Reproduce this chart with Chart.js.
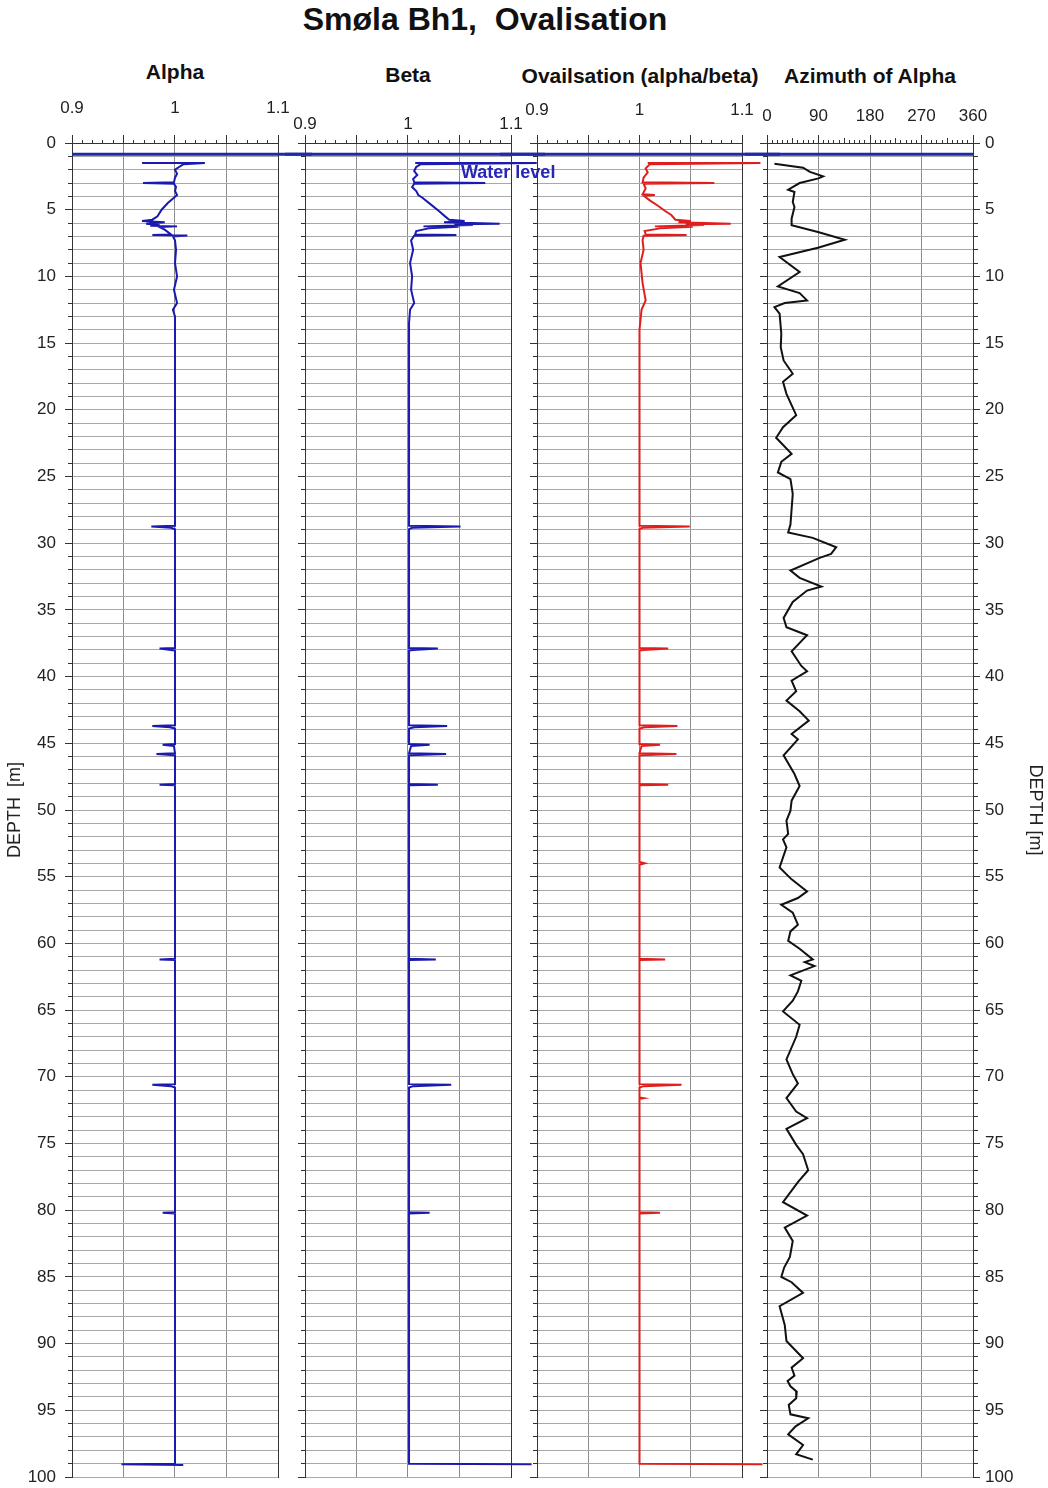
<!DOCTYPE html>
<html>
<head>
<meta charset="utf-8">
<script src="https://cdn.jsdelivr.net/npm/chart.js@4.4.1/dist/chart.umd.min.js"></script>
<style>
  body { margin: 0; background: #fff; width: 1048px; height: 1488px; position: relative; overflow: hidden;
         font-family: "Liberation Sans", Arial, sans-serif; }
  canvas { position: absolute; top: 0; }
  .t { position: absolute; font-weight: bold; white-space: pre; transform: translate(-50%, -50%); color: #111; }
  .wl { position: absolute; font-weight: bold; color: #2626b8; font-size: 18px; transform: translateY(-50%); }
</style>
</head>
<body>
<div class="t" style="left:485px;top:19px;font-size:32px">Smøla Bh1,  Ovalisation</div>
<div class="t" style="left:175px;top:72px;font-size:21px">Alpha</div>
<div class="t" style="left:408px;top:75px;font-size:21px">Beta</div>
<div class="t" style="left:640px;top:76px;font-size:21px">Ovailsation (alpha/beta)</div>
<div class="t" style="left:870px;top:76px;font-size:21px">Azimuth of Alpha</div>

<canvas id="alpha" width="312" height="1500" style="left:0px"></canvas>
<canvas id="beta" width="260" height="1500" style="left:285px"></canvas>
<canvas id="oval" width="280" height="1500" style="left:500px"></canvas>
<canvas id="azimuth" width="303" height="1500" style="left:745px"></canvas>
<div class="wl" style="left:461px;top:172px">Water level</div>

<script>
const FONT = '"Liberation Sans", Arial, sans-serif';

// tick labels
const depthLabels = [0, 5, 10, 15, 20, 25, 30, 35, 40, 45, 50, 55, 60, 65, 70, 75, 80, 85, 90, 95, 100];
const ratioLabels = [0.9, 1, 1.1];
const azimuthLabels = [0, 90, 180, 270, 360];
const waterDepth = 0.85;

// Alpha
const alphaDepth = [1.5, 1.5, 1.6, 1.8, 2.0, 2.3, 2.6, 2.95, 3.0, 3.05,
  3.3, 3.6, 3.9, 4.1, 4.5, 5.0, 5.5, 5.75, 5.85, 5.95,
  6.05, 6.15, 6.2, 6.25, 6.3, 6.5, 6.85, 6.9, 6.93, 7.0,
  7.3, 8.0, 9.0, 10.0, 11.0, 12.0, 12.5, 13.0, 16.0, 20.0,
  25.0, 28.7, 28.75, 28.85, 28.95, 37.85, 37.9, 38.0, 38.05, 43.65,
  43.7, 43.8, 43.9, 45.05, 45.1, 45.2, 45.75, 45.8, 45.9, 48.05,
  48.1, 48.15, 53.5, 61.15, 61.2, 61.25, 70.55, 70.6, 70.7, 70.8,
  80.15, 80.2, 80.25, 99.0, 99.05, 99.1];
const alphaValue = [0.968, 1.029, 1.008, 1.004, 1.0, 1.002, 1.0, 0.999, 0.969, 0.999,
  1.001, 1.0, 1.002, 0.999, 0.993, 0.987, 0.983, 0.978, 0.968, 0.99,
  0.972, 0.985, 0.976, 1.002, 0.985, 0.99, 0.996, 0.978, 1.012, 0.998,
  1.0, 1.001, 1.0, 1.002, 0.999, 1.002, 0.998, 1.0, 1.0, 1.0,
  1.0, 1.0, 0.977, 0.996, 1.0, 1.0, 0.985, 0.996, 1.0, 1.0,
  0.978, 0.995, 1.0, 1.0, 0.988, 0.999, 1.0, 0.982, 1.0, 1.0,
  0.985, 1.0, 1.0, 1.0, 0.985, 1.0, 1.0, 0.978, 0.996, 1.0,
  1.0, 0.988, 1.0, 1.0, 0.948, 1.008];

// Beta
const betaDepth = [1.5, 1.5, 1.6, 1.8, 2.1, 2.4, 2.7, 2.95, 3.0, 3.05,
  3.3, 3.6, 3.9, 4.1, 4.6, 5.1, 5.5, 5.75, 5.85, 5.95,
  6.05, 6.1, 6.15, 6.25, 6.27, 6.4, 6.6, 6.85, 6.9, 6.95,
  7.3, 8.0, 9.0, 10.0, 11.0, 12.0, 12.5, 13.5, 20.0, 28.7,
  28.75, 28.85, 28.95, 37.85, 37.9, 38.0, 38.05, 43.65, 43.7, 43.8,
  43.9, 45.05, 45.1, 45.2, 45.75, 45.8, 45.9, 48.05, 48.1, 48.15,
  61.15, 61.2, 61.25, 70.55, 70.6, 70.7, 70.8, 80.15, 80.2, 80.25,
  99.0, 99.05];
const betaValue = [1.007, 1.125, 1.012, 1.008, 1.006, 1.009, 1.005, 1.006, 1.075, 1.006,
  1.004, 1.008, 1.01, 1.014, 1.022, 1.03, 1.036, 1.04, 1.055, 1.035,
  1.089, 1.045, 1.063, 1.015, 1.049, 1.02, 1.008, 1.007, 1.047, 1.006,
  1.003, 1.005, 1.002, 1.004, 1.003, 1.006, 1.002, 1.001, 1.001, 1.001,
  1.051, 1.004, 1.001, 1.001, 1.029, 1.005, 1.001, 1.001, 1.038, 1.006,
  1.001, 1.001, 1.021, 1.003, 1.001, 1.037, 1.001, 1.001, 1.029, 1.001,
  1.001, 1.027, 1.001, 1.001, 1.042, 1.005, 1.001, 1.001, 1.021, 1.001,
  1.001, 1.12];

// Ovalisation (alpha/beta)
const ovalDepth = [1.5, 1.5, 1.6, 1.9, 2.2, 2.6, 2.95, 3.0, 3.05, 3.4,
  3.85, 3.9, 3.95, 4.3, 4.7, 5.1, 5.4, 5.75, 5.85, 5.95,
  6.05, 6.1, 6.15, 6.25, 6.27, 6.4, 6.6, 6.85, 6.9, 6.95,
  7.3, 8.0, 9.0, 10.5, 11.8, 12.5, 14.0, 20.0, 28.7, 28.75,
  28.85, 28.95, 37.85, 37.9, 38.0, 38.05, 43.65, 43.7, 43.8, 43.9,
  45.05, 45.1, 45.2, 45.75, 45.8, 45.9, 48.05, 48.1, 48.15, 53.9,
  54.0, 54.1, 61.15, 61.2, 61.25, 70.55, 70.6, 70.7, 70.8, 71.55,
  71.6, 71.65, 80.15, 80.2, 80.25, 99.0, 99.05];
const ovalValue = [1.008, 1.118, 1.01, 1.006, 1.008, 1.004, 1.003, 1.073, 1.004, 1.006,
  1.003, 1.015, 1.004, 1.01, 1.018, 1.025, 1.031, 1.035, 1.05, 1.038,
  1.089, 1.045, 1.063, 1.015, 1.052, 1.02, 1.005, 1.006, 1.046, 1.004,
  1.003, 1.004, 1.001, 1.003, 1.006, 1.002, 1.0, 1.0, 1.0, 1.049,
  1.003, 1.0, 1.0, 1.028, 1.004, 1.0, 1.0, 1.037, 1.005, 1.0,
  1.0, 1.02, 1.002, 1.0, 1.036, 1.0, 1.0, 1.028, 1.0, 1.0,
  1.005, 1.0, 1.0, 1.025, 1.0, 1.0, 1.041, 1.004, 1.0, 1.0,
  1.004, 1.0, 1.0, 1.02, 1.0, 1.0, 1.12];

// Azimuth of alpha (degrees)
const azDepth = [1.55, 1.85, 2.17, 2.5, 2.65, 3.0, 3.5, 3.67, 4.42, 4.8,
  5.67, 6.17, 6.67, 7.25, 7.85, 8.55, 9.67, 10.75, 11.25, 11.8,
  12.0, 12.3, 12.8, 14.3, 15.3, 16.3, 17.3, 17.9, 18.8, 20.4,
  21.3, 22.1, 23.3, 23.9, 24.7, 25.2, 26.3, 28.6, 29.2, 29.6,
  30.3, 30.8, 31.1, 32.05, 32.6, 33.25, 33.55, 34.4, 35.6, 36.3,
  36.9, 38.1, 39.2, 39.6, 40.3, 41.1, 41.8, 42.6, 43.3, 44.3,
  44.7, 45.9, 47.3, 48.2, 49.3, 50.05, 50.8, 51.8, 52.2, 52.8,
  54.3, 55.2, 56.1, 56.6, 57.1, 57.7, 58.6, 59.1, 59.8, 60.4,
  61.2, 61.4, 61.7, 62.4, 62.8, 63.6, 64.3, 65.1, 66.1, 67.0,
  68.7, 69.8, 70.5, 71.6, 72.6, 73.1, 73.9, 75.1, 75.8, 77.0,
  77.9, 79.4, 80.4, 81.3, 82.3, 83.5, 84.3, 85.0, 85.4, 86.2,
  87.2, 88.6, 89.8, 91.1, 91.8, 92.4, 92.8, 93.2, 93.6, 94.1,
  94.6, 95.3, 95.6, 96.2, 96.8, 97.6, 98.3, 98.7];
const azValue = [13, 63, 75, 98, 90, 57, 37, 48, 45, 48,
  43, 43, 89, 136, 89, 22, 57, 19, 57, 70,
  31, 13, 22, 25, 24, 29, 45, 28, 34, 51,
  28, 16, 43, 25, 19, 41, 45, 41, 37, 80,
  121, 112, 92, 41, 57, 95, 70, 45, 29, 34,
  70, 43, 60, 70, 43, 51, 34, 57, 73, 43,
  54, 29, 48, 57, 43, 41, 34, 37, 28, 34,
  22, 43, 70, 54, 25, 45, 54, 41, 37, 57,
  80, 66, 83, 41, 60, 54, 45, 28, 57, 51,
  34, 45, 54, 34, 51, 70, 34, 51, 63, 72,
  54, 28, 70, 31, 45, 40, 30, 25, 43, 63,
  22, 31, 34, 63, 43, 48, 36, 41, 52, 51,
  38, 41, 72, 50, 37, 63, 51, 80];

const pts = (d, v) => d.map((y, i) => ({ x: v[i], y: y }));
const isMult = (v, m) => Math.abs(v / m - Math.round(v / m)) < 1e-6;
const hasLabel = (list, v) => list.some(l => Math.abs(l - v) < 1e-6);

// draws the water level across each track (and the gaps between them)
const waterLine = {
  id: 'waterLine',
  afterDatasetsDraw(chart, args, opts) {
    const { ctx, chartArea, width } = chart;
    const y = chart.scales.y.getPixelForValue(waterDepth);
    const x0 = opts.fromArea ? chartArea.left : 0;
    const x1 = opts.toArea ? chartArea.right : width;
    ctx.save();
    ctx.strokeStyle = '#1f2aa8';
    ctx.lineWidth = 3;
    ctx.beginPath();
    ctx.moveTo(x0, y);
    ctx.lineTo(x1, y);
    ctx.stroke();
    ctx.restore();
  }
};

function makeTrack(id, cfg) {
  const depthScale = (pos, show, width, title) => ({
    type: 'linear', position: pos, min: 0, max: 100, reverse: true,
    afterFit: s => { s.width = width; },
    border: { display: true, color: '#333', width: 1 },
    grid: {
      drawOnChartArea: pos === 'left',
      color: '#a9a9a9', lineWidth: 1,
      drawTicks: pos === 'left' || show,
      tickLength: 7, tickColor: '#333',
      tickBorderDash: c => (c.tick && isMult(c.tick.value, 5)) ? [] : (pos === 'left' ? [0, 3, 4, 100] : [4, 100])
    },
    ticks: {
      display: show, stepSize: 1, autoSkip: false, padding: pos === 'left' ? 9 : 5,
      color: '#222', font: { size: 17, family: FONT },
      callback: v => hasLabel(depthLabels, v) ? String(v) : ''
    },
    title: {
      display: !!title, text: title || '', color: '#222',
      font: { size: 18, family: FONT }, padding: { top: pos === 'left' ? 4 : 2, bottom: 0 }
    }
  });

  return new Chart(document.getElementById(id), {
    type: 'scatter',
    data: {
      datasets: [{
        data: pts(cfg.depth, cfg.value),
        showLine: true, borderColor: cfg.color, borderWidth: 2,
        pointRadius: 0, tension: 0, xAxisID: 'x', yAxisID: 'y',
        clip: { left: 2, top: 2, right: 30, bottom: 2 }
      }]
    },
    options: {
      responsive: false, animation: false, devicePixelRatio: 1,
      layout: { padding: { left: 0, top: 0, right: cfg.padRight, bottom: 23 } },
      plugins: {
        legend: { display: false }, tooltip: { enabled: false },
        waterLine: { fromArea: cfg.fromArea, toArea: cfg.toArea }
      },
      scales: {
        x: {
          type: 'linear', position: 'top', min: cfg.min, max: cfg.max,
          afterFit: s => { s.height = 143; },
          border: { display: true, color: '#333', width: 1 },
          grid: {
            color: c => (c.tick && isMult(c.tick.value, cfg.gridEvery)) ? '#8c8c8c' : 'rgba(0,0,0,0)',
            lineWidth: 1, tickLength: 8, tickColor: '#333',
            tickBorderDash: c => {
              if (!c.tick) return [];
              const v = c.tick.value;
              if (isMult(v, cfg.gridEvery)) return [];
              if (cfg.midEvery && isMult(v, cfg.midEvery)) return [0, 3, 5, 100];
              return [0, 5, 3, 100];
            }
          },
          ticks: {
            stepSize: cfg.step, autoSkip: false, maxRotation: 0, padding: cfg.labelPad,
            color: '#222', font: { size: 17, family: FONT },
            callback: v => hasLabel(cfg.labels, v) ? String(Math.round(v * 100) / 100) : ''
          }
        },
        y: depthScale('left', cfg.leftLabels, cfg.leftWidth, cfg.leftLabels ? 'DEPTH  [m]' : ''),
        yr: depthScale('right', cfg.rightLabels, cfg.rightWidth, cfg.rightLabels ? 'DEPTH [m]' : '')
      }
    },
    plugins: [waterLine]
  });
}

makeTrack('alpha', {
  depth: alphaDepth, value: alphaValue, color: '#1a1ab0',
  min: 0.9, max: 1.1, step: 0.01, gridEvery: 0.05, labels: ratioLabels, labelPad: 16,
  leftLabels: true, leftWidth: 72, rightLabels: false, rightWidth: 0, padRight: 34,
  fromArea: true, toArea: false
});
makeTrack('beta', {
  depth: betaDepth, value: betaValue, color: '#1a1ab0',
  min: 0.9, max: 1.1, step: 0.01, gridEvery: 0.05, labels: ratioLabels, labelPad: 0,
  leftLabels: false, leftWidth: 20, rightLabels: false, rightWidth: 0, padRight: 34,
  fromArea: false, toArea: false
});
makeTrack('oval', {
  depth: ovalDepth, value: ovalValue, color: '#e01e1e',
  min: 0.9, max: 1.1, step: 0.01, gridEvery: 0.05, labels: ratioLabels, labelPad: 14,
  leftLabels: false, leftWidth: 37, rightLabels: false, rightWidth: 0, padRight: 38,
  fromArea: false, toArea: false
});
makeTrack('azimuth', {
  depth: azDepth, value: azValue, color: '#111',
  min: 0, max: 360, step: 9, gridEvery: 90, midEvery: 45, labels: azimuthLabels, labelPad: 8,
  leftLabels: false, leftWidth: 22, rightLabels: true, rightWidth: 75, padRight: 0,
  fromArea: false, toArea: true
});
</script>
</body>
</html>
